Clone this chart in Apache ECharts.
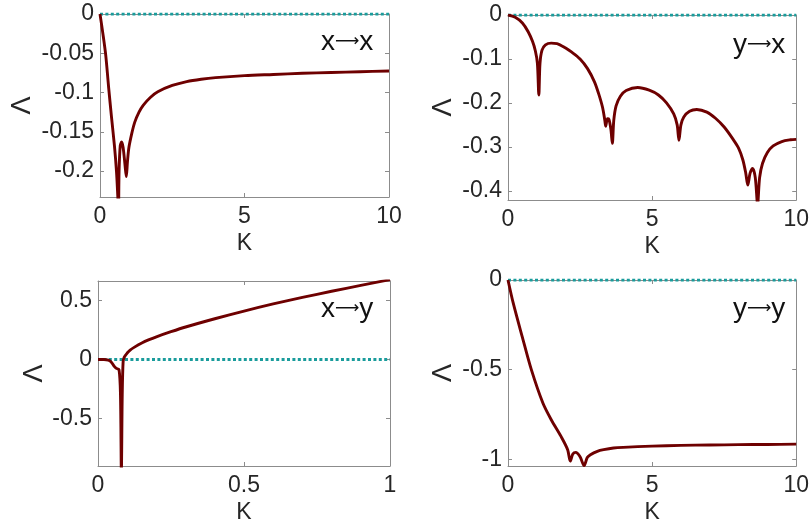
<!DOCTYPE html>
<html>
<head>
<meta charset="utf-8">
<script src="https://cdn.jsdelivr.net/npm/echarts@6/dist/echarts.min.js"></script>
<style>html,body{margin:0;padding:0;background:#fff;}#c{width:812px;height:527px;}</style>
</head>
<body>
<div id="c"></div>
<script>
// ---- data ----
const panelVars = [['x', 'x'], ['y', 'x'], ['x', 'y'], ['y', 'y']];

const K_xx = [0, 0.1, 0.2, 0.3, 0.4, 0.5, 0.57, 0.62, 0.64, 0.66, 0.7, 0.75, 0.8, 0.86, 0.91, 0.95, 1.0, 1.1, 1.2, 1.35, 1.5, 1.75, 2.0, 2.5, 3, 3.5, 4, 5, 6, 7, 8, 9, 10];
const L_xx = [0, -0.025, -0.053, -0.094, -0.132, -0.168, -0.2, -0.235, -0.25, -0.2, -0.168, -0.163, -0.17, -0.19, -0.207, -0.188, -0.17, -0.152, -0.138, -0.125, -0.116, -0.106, -0.099, -0.091, -0.086, -0.083, -0.081, -0.0785, -0.077, -0.0755, -0.0745, -0.0735, -0.0726];

const K_yx = [0, 0.25, 0.5, 0.7, 0.85, 0.95, 1.02, 1.07, 1.11, 1.18, 1.3, 1.5, 1.7, 2.0, 2.2, 2.5, 2.76, 3.0, 3.15, 3.28, 3.36, 3.39, 3.45, 3.5, 3.57, 3.62, 3.67, 3.75, 3.9, 4.1, 4.5, 4.9, 5.22, 5.5, 5.75, 5.87, 5.93, 6.0, 6.1, 6.3, 6.55, 6.9, 7.2, 7.5, 7.8, 8.0, 8.15, 8.25, 8.32, 8.4, 8.49, 8.58, 8.66, 8.73, 8.83, 9.0, 9.2, 9.5, 9.8, 10];
const L_yx = [0, -0.005, -0.018, -0.038, -0.06, -0.082, -0.11, -0.182, -0.11, -0.08, -0.068, -0.064, -0.065, -0.075, -0.084, -0.1, -0.122, -0.152, -0.18, -0.21, -0.24, -0.253, -0.236, -0.237, -0.26, -0.292, -0.24, -0.207, -0.185, -0.172, -0.165, -0.171, -0.182, -0.2, -0.225, -0.25, -0.285, -0.25, -0.232, -0.219, -0.215, -0.221, -0.235, -0.255, -0.282, -0.303, -0.33, -0.36, -0.387, -0.36, -0.349, -0.37, -0.43, -0.37, -0.338, -0.313, -0.298, -0.288, -0.284, -0.283];

const K_xy = [0, 0.02, 0.035, 0.045, 0.055, 0.063, 0.072, 0.077, 0.08, 0.083, 0.086, 0.09, 0.1, 0.11, 0.125, 0.15, 0.175, 0.2, 0.25, 0.3, 0.4, 0.5, 0.6, 0.7, 0.8, 0.9, 1.0];
const L_xy = [0, 0, -0.005, -0.02, -0.055, -0.075, -0.085, -0.3, -0.95, -0.3, -0.02, 0.02, 0.055, 0.08, 0.105, 0.14, 0.168, 0.192, 0.235, 0.275, 0.345, 0.41, 0.47, 0.525, 0.577, 0.627, 0.675];

const K_yy = [0, 0.18, 0.49, 0.81, 1.21, 1.5, 1.84, 2.07, 2.16, 2.25, 2.35, 2.5, 2.64, 2.75, 2.86, 3.1, 3.32, 3.66, 4, 5, 6, 7, 8, 9, 10];
const L_yy = [0, -0.128, -0.314, -0.5, -0.686, -0.779, -0.872, -0.946, -1.01, -0.97, -0.961, -0.985, -1.035, -0.99, -0.974, -0.955, -0.946, -0.937, -0.933, -0.926, -0.922, -0.92, -0.918, -0.917, -0.915];

const zeroK_10 = [0, 10];
const zeroK_1 = [0, 1];
const zeroVals = [0, 0];

const xTicks10 = [0, 5, 10];
const xTicks1 = [0, 0.5, 1];
const yTicks_xx = [-0.2, -0.15, -0.1, -0.05, 0];
const yTicks_yx = [-0.4, -0.3, -0.2, -0.1, 0];
const yTicks_xy = [-0.5, 0, 0.5];
const yTicks_yy = [-1, -0.5, 0];

// ---- layout / style ----
const FONT = 'Liberation Sans, Arial, sans-serif';
const TXT = '#262626';
const AX = '#8c8c8c';
const RED = '#6e0000';
const TEAL = '#1a9c9c';

const panels = [
  { grid: {left: 100, top: 14, width: 289, height: 183}, xMax: 10, yMin: -0.233, yMax: 0, xT: xTicks10, yT: yTicks_xx, K: K_xx, L: L_xx, zk: zeroK_10, yGap: 64, title: [349, 47] },
  { grid: {left: 508, top: 15, width: 291, height: 185}, xMax: 10, yMin: -0.421, yMax: 0, xT: xTicks10, yT: yTicks_yx, K: K_yx, L: L_yx, zk: zeroK_10, yGap: 51, title: [761, 50] },
  { grid: {left: 98, top: 281, width: 292, height: 185}, xMax: 1, yMin: -0.9, yMax: 0.664, xT: xTicks1, yT: yTicks_xy, K: K_xy, L: L_xy, zk: zeroK_1, yGap: 50, title: [349, 314] },
  { grid: {left: 508, top: 280, width: 292, height: 186}, xMax: 10, yMin: -1.037, yMax: 0, xT: xTicks10, yT: yTicks_yy, K: K_yy, L: L_yy, zk: zeroK_10, yGap: 51, title: [761, 314] }
];

const grids = [], xAxes = [], yAxes = [], series = [], graphics = [];
panels.forEach((p, i) => {
  grids.push(Object.assign({ containLabel: false }, p.grid));
  const lineStyle = { color: AX, width: 1 };
  const tick = (vals) => ({ show: true, inside: true, length: 4, lineStyle: { color: AX }, customValues: vals });
  xAxes.push({
    type: 'value', gridIndex: i, min: 0, max: p.xMax, position: 'bottom',
    axisLine: { show: true, onZero: false, lineStyle },
    axisTick: tick(p.xT),
    axisLabel: { customValues: p.xT, fontSize: 23, color: TXT, fontFamily: FONT, margin: 8 },
    splitLine: { show: false },
    name: 'K', nameLocation: 'middle', nameGap: 35,
    nameTextStyle: { fontSize: 23, color: TXT, fontFamily: FONT }
  });
  xAxes.push({
    type: 'value', gridIndex: i, min: 0, max: p.xMax, position: 'top',
    axisLine: { show: true, onZero: false, lineStyle },
    axisTick: tick(p.xT), axisLabel: { show: false }, splitLine: { show: false }
  });
  yAxes.push({
    type: 'value', gridIndex: i, min: p.yMin, max: p.yMax, position: 'left',
    axisLine: { show: true, onZero: false, lineStyle },
    axisTick: tick(p.yT),
    axisLabel: { customValues: p.yT, fontSize: 23, color: TXT, fontFamily: FONT, margin: 6 },
    splitLine: { show: false },
    name: '\u039B', nameLocation: 'middle', nameGap: p.yGap, nameRotate: 90,
    nameTextStyle: { fontSize: 27, color: TXT, fontFamily: FONT }
  });
  yAxes.push({
    type: 'value', gridIndex: i, min: p.yMin, max: p.yMax, position: 'right',
    axisLine: { show: true, onZero: false, lineStyle },
    axisTick: tick(p.yT), axisLabel: { show: false }, splitLine: { show: false }
  });
  series.push({
    type: 'line', xAxisIndex: 2 * i, yAxisIndex: 2 * i,
    data: p.zk.map((k, j) => [k, zeroVals[j]]),
    showSymbol: false, silent: true, z: 2,
    lineStyle: { color: TEAL, width: 3, type: [3, 2.4], cap: 'butt' }
  });
  series.push({
    type: 'line', xAxisIndex: 2 * i, yAxisIndex: 2 * i,
    data: p.K.map((k, j) => [k, p.L[j]]),
    showSymbol: false, silent: true, z: 3, clip: true,
    smooth: 0.3,
    lineStyle: { color: RED, width: 2.9, join: 'round' }
  });
  graphics.push({
    type: 'text', left: p.title[0] - 28, top: p.title[1] - 19,
    style: {
      text: '{v|' + panelVars[i][0] + '}{a|\u27F6}{v|' + panelVars[i][1] + '}',
      rich: {
        v: { fontSize: 28, fontFamily: FONT, fill: '#111' },
        a: { fontSize: 17, fontFamily: 'DejaVu Sans', fill: '#111' }
      }
    }
  });
});

const chart = echarts.init(document.getElementById('c'), null, { renderer: 'canvas' });
chart.setOption({
  backgroundColor: '#fff',
  animation: false,
  grid: grids, xAxis: xAxes, yAxis: yAxes, series: series,
  graphic: graphics
});
</script>
</body>
</html>
